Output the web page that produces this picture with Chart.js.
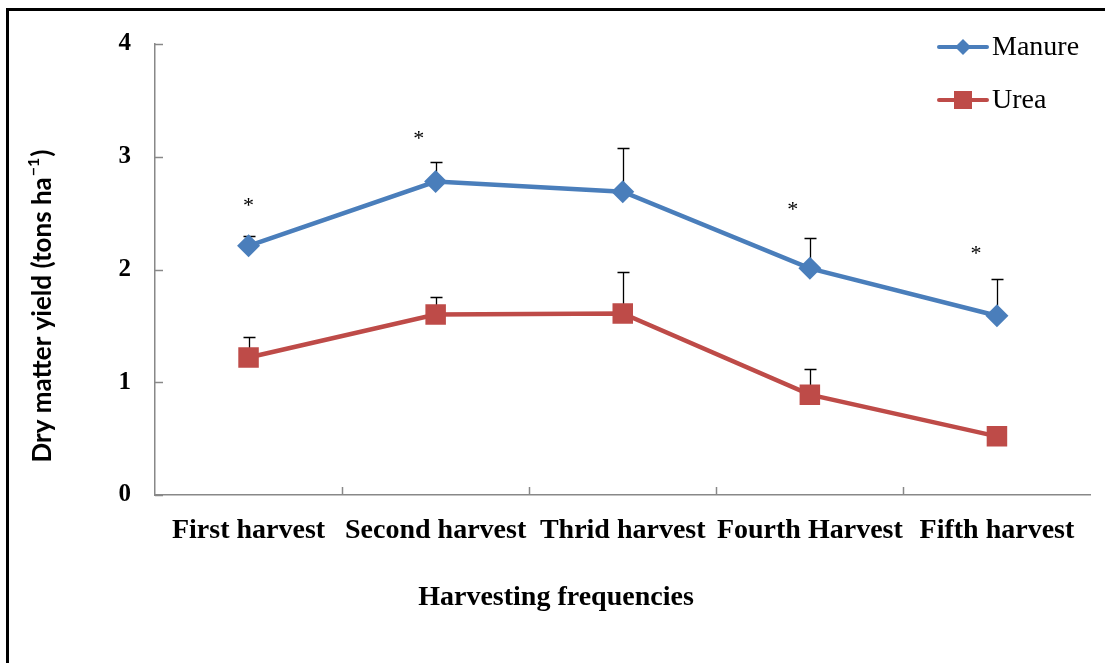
<!DOCTYPE html>
<html><head><meta charset="utf-8">
<script src="https://cdn.jsdelivr.net/npm/chart.js@4.4.0/dist/chart.umd.min.js"></script>
<style>
html,body{margin:0;padding:0;background:#fff;}
#wrap{position:relative;width:1105px;height:663px;overflow:hidden;background:#fff;}
#frame{position:absolute;left:6px;top:8px;width:2000px;height:2000px;border-top:3px solid #000;border-left:3px solid #000;pointer-events:none;}
</style></head><body>
<div id="wrap"><canvas id="c" width="1105" height="663"></canvas><div id="frame"></div></div>
<script>
const categories = ['First harvest', 'Second harvest', 'Thrid harvest', 'Fourth Harvest', 'Fifth harvest'];
const manure = [2.21, 2.78, 2.69, 2.01, 1.59];
const urea = [1.22, 1.60, 1.61, 0.89, 0.52];
const manureErr = [0.09, 0.17, 0.39, 0.27, 0.33];
const ureaErr = [0.18, 0.16, 0.37, 0.23, 0];
const asteriskAt = [2.60, 3.19, null, 2.56, 2.17];
const seriesNames = ['Manure', 'Urea'];
const yTitle = 'Dry matter yield (tons ha';
const xTitle = 'Harvesting frequencies';

const BLUE = '#4a7ebb', RED = '#be4b48', AXIS = '#888888';
const SERIF = '"Liberation Serif", "Times New Roman", serif';

const extras = {
  id: 'extras',
  beforeDatasetsDraw(chart) {
    const ctx = chart.ctx, x = chart.scales.x, y = chart.scales.y, a = chart.chartArea;
    ctx.save();
    ctx.strokeStyle = AXIS; ctx.lineWidth = 1.5;
    y.ticks.forEach(t => {
      const py = Math.round(y.getPixelForValue(t.value)) + 0.5;
      ctx.beginPath(); ctx.moveTo(a.left, py); ctx.lineTo(a.left + 8, py); ctx.stroke();
    });
    for (let i = 1; i < categories.length; i++) {
      const px = Math.round((x.getPixelForValue(i - 1) + x.getPixelForValue(i)) / 2) + 0.5;
      ctx.beginPath(); ctx.moveTo(px, a.bottom); ctx.lineTo(px, a.bottom - 8); ctx.stroke();
    }
    ctx.strokeStyle = '#000'; ctx.lineWidth = 1.3;
    [[manure, manureErr], [urea, ureaErr]].forEach(([vals, errs]) => {
      vals.forEach((v, i) => {
        if (!errs[i]) return;
        const px = Math.round(x.getPixelForValue(i)) + 0.5;
        const p0 = y.getPixelForValue(v), p1 = Math.round(y.getPixelForValue(v + errs[i])) + 0.5;
        ctx.beginPath(); ctx.moveTo(px, p0); ctx.lineTo(px, p1);
        ctx.moveTo(px - 6, p1); ctx.lineTo(px + 6, p1); ctx.stroke();
      });
    });
    ctx.restore();
  },
  afterDraw(chart) {
    const ctx = chart.ctx, x = chart.scales.x, y = chart.scales.y;
    ctx.save();
    const shift = [0, -17, 0, -17, -21];
    ctx.fillStyle = '#000'; ctx.font = '22px ' + SERIF; ctx.textAlign = 'center'; ctx.textBaseline = 'alphabetic';
    asteriskAt.forEach((v, i) => {
      if (v == null) return;
      ctx.fillText('*', x.getPixelForValue(i) + shift[i], y.getPixelForValue(v) + 10);
    });
    const items = [[seriesNames[0], BLUE, 'diamond', 47], [seriesNames[1], RED, 'square', 100]];
    items.forEach(([name, col, shape, ly]) => {
      ctx.strokeStyle = col; ctx.lineWidth = 4; ctx.lineCap = 'round';
      ctx.beginPath(); ctx.moveTo(939, ly); ctx.lineTo(987, ly); ctx.stroke();
      ctx.fillStyle = col; ctx.beginPath();
      if (shape === 'diamond') {
        ctx.moveTo(963, ly - 8); ctx.lineTo(971, ly); ctx.lineTo(963, ly + 8); ctx.lineTo(955, ly);
      } else {
        ctx.rect(954, ly - 9, 18, 18);
      }
      ctx.fill();
      ctx.fillStyle = '#000'; ctx.font = '28px ' + SERIF; ctx.textAlign = 'left'; ctx.textBaseline = 'middle';
      ctx.fillText(name, 992, ly + 1);
    });
    ctx.font = 'bold 28px ' + SERIF; ctx.textAlign = 'center'; ctx.textBaseline = 'middle';
    ctx.fillText(xTitle, 556, 598);
    ctx.translate(43, 307); ctx.rotate(-Math.PI / 2);
    const f1 = 'bold 26px Lato, "Open Sans", sans-serif', f2 = 'bold 16px Lato, "Open Sans", sans-serif';
    ctx.font = f1; const w1 = ctx.measureText(yTitle).width, w3 = ctx.measureText(')').width;
    ctx.font = f2; const w2 = ctx.measureText('\u22121').width;
    let sx = -(w1 + w2 + w3) / 2;
    ctx.textAlign = 'left'; ctx.textBaseline = 'middle';
    ctx.font = f1; ctx.fillText(yTitle, sx, 0);
    ctx.font = f2; ctx.fillText('\u22121', sx + w1 + 1, -9);
    ctx.font = f1; ctx.fillText(')', sx + w1 + w2 + 2, 0);
    ctx.restore();
  }
};

new Chart(document.getElementById('c'), {
  type: 'line',
  data: {
    labels: categories,
    datasets: [
      { label: seriesNames[0], data: manure, borderColor: BLUE, backgroundColor: BLUE, borderWidth: 4.5,
        pointStyle: 'rectRot', pointRadius: 11.5, pointHoverRadius: 11.5, pointBorderWidth: 0, tension: 0 },
      { label: seriesNames[1], data: urea, borderColor: RED, backgroundColor: RED, borderWidth: 4.5,
        pointStyle: 'rect', pointRadius: 14.5, pointHoverRadius: 14.5, pointBorderWidth: 0, tension: 0 }
    ]
  },
  options: {
    responsive: false, animation: false, devicePixelRatio: 1,
    layout: { padding: { top: 44, right: 10, left: 0, bottom: 0 } },
    plugins: { legend: { display: false }, tooltip: { enabled: false } },
    scales: {
      x: {
        type: 'category', offset: true,
        grid: { display: false, drawTicks: false },
        border: { display: true, color: AXIS, width: 1.5 },
        ticks: { color: '#000', font: { family: SERIF, size: 28, weight: 'bold' }, padding: 19, maxRotation: 0, autoSkip: false },
        afterFit(s) { s.height = 168; }
      },
      y: {
        min: 0, max: 4,
        grid: { display: false, drawTicks: false },
        border: { display: true, color: AXIS, width: 1.5 },
        ticks: { stepSize: 1, color: '#000', font: { family: SERIF, size: 25, weight: 'bold' }, padding: 24 },
        afterFit(s) { s.width = 155; }
      }
    }
  },
  plugins: [extras]
});
</script>
</body></html>
